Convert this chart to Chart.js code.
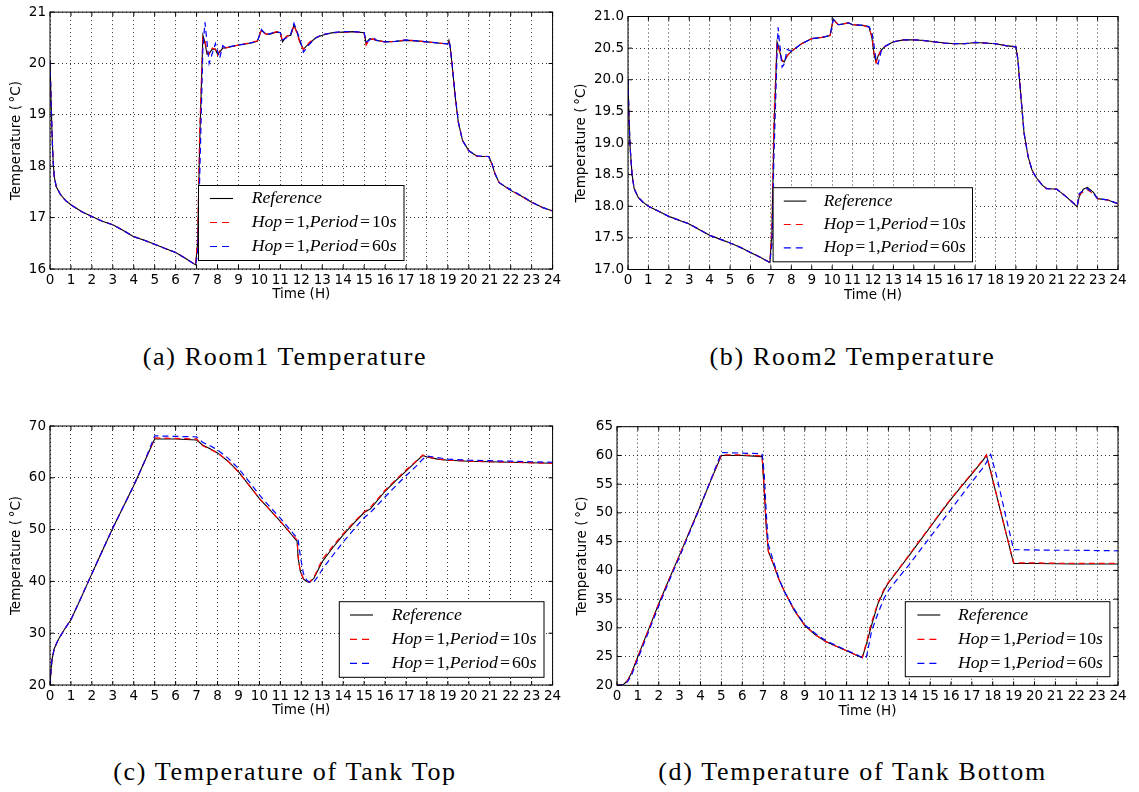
<!DOCTYPE html>
<html>
<head>
<meta charset="utf-8">
<script src="https://cdn.jsdelivr.net/npm/chart.js@4.4.1/dist/chart.umd.min.js"></script>
<style>
  body { margin: 0; background: #fff; }
  #figure { position: relative; width: 1139px; height: 792px; overflow: hidden; }
  #figure canvas { position: absolute; }
  .caption {
    position: absolute; text-align: center; color: #000;
    font-family: "Liberation Serif", serif; font-size: 26px; letter-spacing: 1.7px; line-height: 30px;
  }
</style>
</head>
<body>
<div id="figure">
  <canvas id="chart-a" width="570" height="312" style="left:0;top:0"></canvas>
  <canvas id="chart-b" width="579" height="312" style="left:560px;top:0"></canvas>
  <canvas id="chart-c" width="570" height="318" style="left:0;top:410px"></canvas>
  <canvas id="chart-d" width="579" height="318" style="left:560px;top:410px"></canvas>
  <div class="caption" style="left:0;top:342px;width:570px">(a) Room1 Temperature</div>
  <div class="caption" style="left:563px;top:342px;width:579px">(b) Room2 Temperature</div>
  <div class="caption" style="left:0;top:757px;width:570px">(c) Temperature of Tank Top</div>
  <div class="caption" style="left:563px;top:757px;width:579px">(d) Temperature of Tank Bottom</div>
</div>
<script>
'use strict';

// values: time in hours, temperature in °C

const room1Hours = [
  0, 0.05, 0.1, 0.15, 0.2, 0.3, 0.5, 0.75, 1, 1.5,
  2, 2.5, 3, 3.5, 4, 4.5, 5, 5.5, 6, 6.5,
  6.95, 7.05, 7.15, 7.3, 7.4, 7.5, 7.6, 7.75, 7.9, 8.0,
  8.1, 8.25, 8.4, 8.6, 9, 9.5, 9.9, 10.1, 10.3, 10.5,
  10.8, 11.0, 11.1, 11.3, 11.5, 11.65, 11.8, 11.95, 12.1, 12.4,
  12.7, 13, 13.5, 14, 14.5, 15.0, 15.1, 15.25, 15.4, 15.6,
  16, 16.5, 17, 17.5, 18, 18.5, 19.0, 19.05, 19.1, 19.2,
  19.35, 19.5, 19.7, 20, 20.4, 20.95, 21.1, 21.25, 21.45, 22,
  22.5, 23, 23.5, 24,
];
const room1Reference = [
  20.05, 19.3, 18.6, 18.1, 17.8, 17.6, 17.45, 17.33, 17.25, 17.12,
  17.02, 16.93, 16.86, 16.75, 16.63, 16.56, 16.48, 16.4, 16.32, 16.2,
  16.08, 16.5, 18.5, 20.55, 20.4, 20.18, 20.2, 20.28, 20.28, 20.18,
  20.22, 20.3, 20.3, 20.32, 20.36, 20.39, 20.43, 20.65, 20.58, 20.57,
  20.61, 20.6, 20.42, 20.53, 20.55, 20.75, 20.6, 20.4, 20.28, 20.4,
  20.5, 20.55, 20.6, 20.61, 20.62, 20.6, 20.38, 20.48, 20.47, 20.45,
  20.42, 20.43, 20.45, 20.44, 20.42, 20.4, 20.38, 20.45, 20.35, 19.98,
  19.35, 18.85, 18.5, 18.3, 18.19, 18.19, 18.05, 17.85, 17.68, 17.53,
  17.42, 17.3, 17.2, 17.13,
];
const room1Hop10 = [
  20.05, 19.3, 18.6, 18.1, 17.8, 17.6, 17.45, 17.33, 17.25, 17.12,
  17.02, 16.93, 16.86, 16.75, 16.63, 16.56, 16.48, 16.4, 16.32, 16.2,
  16.08, 16.6, 18.7, 20.5, 20.45, 20.22, 20.18, 20.3, 20.27, 20.16,
  20.24, 20.3, 20.31, 20.32, 20.36, 20.4, 20.44, 20.66, 20.57, 20.57,
  20.62, 20.61, 20.44, 20.53, 20.56, 20.74, 20.58, 20.38, 20.27, 20.42,
  20.5, 20.56, 20.6, 20.61, 20.62, 20.59, 20.36, 20.47, 20.48, 20.45,
  20.42, 20.43, 20.46, 20.44, 20.42, 20.4, 20.38, 20.42, 20.34, 19.98,
  19.36, 18.86, 18.5, 18.3, 18.19, 18.19, 18.04, 17.85, 17.68, 17.53,
  17.42, 17.3, 17.2, 17.13,
];
const room1Hop60 = [
  20.05, 19.3, 18.6, 18.1, 17.8, 17.6, 17.45, 17.33, 17.25, 17.12,
  17.02, 16.93, 16.86, 16.75, 16.63, 16.56, 16.48, 16.4, 16.32, 16.2,
  16.08, 16.3, 17.8, 20.3, 20.8, 20.4, 20.0, 20.2, 20.39, 20.25,
  20.1, 20.35, 20.3, 20.33, 20.36, 20.39, 20.43, 20.66, 20.56, 20.58,
  20.62, 20.6, 20.46, 20.5, 20.58, 20.78, 20.62, 20.45, 20.22, 20.38,
  20.5, 20.56, 20.6, 20.62, 20.62, 20.6, 20.42, 20.45, 20.52, 20.45,
  20.42, 20.43, 20.46, 20.44, 20.42, 20.4, 20.38, 20.44, 20.36, 20.0,
  19.38, 18.86, 18.5, 18.3, 18.2, 18.19, 18.06, 17.86, 17.68, 17.54,
  17.43, 17.3, 17.2, 17.13,
];

const room2Hours = [
  0, 0.05, 0.1, 0.2, 0.3, 0.5, 0.75, 1, 1.5, 2,
  2.5, 3, 3.5, 4, 4.5, 5, 5.5, 6, 6.5, 6.95,
  7.05, 7.15, 7.3, 7.35, 7.45, 7.55, 7.65, 7.8, 8, 8.5,
  9, 9.5, 9.9, 10.05, 10.3, 10.5, 10.8, 11, 11.5, 11.8,
  11.95, 12.05, 12.15, 12.25, 12.4, 12.6, 13, 13.5, 14, 14.5,
  15, 15.5, 16, 16.5, 17, 17.5, 18, 18.5, 19, 19.1,
  19.25, 19.4, 19.6, 19.8, 20, 20.3, 20.5, 21, 21.5, 22,
  22.1, 22.3, 22.5, 22.8, 23, 23.5, 24,
];
const room2Reference = [
  20.0, 19.4, 18.95, 18.5, 18.28, 18.14, 18.06, 18.0, 17.92, 17.84,
  17.78, 17.72, 17.63, 17.54, 17.48, 17.42, 17.35, 17.27, 17.19, 17.11,
  17.6, 19.2, 20.6, 20.55, 20.42, 20.3, 20.28, 20.38, 20.45, 20.57,
  20.65, 20.67, 20.7, 20.96, 20.87, 20.88, 20.9, 20.87, 20.86, 20.84,
  20.66, 20.4, 20.28, 20.38, 20.47, 20.53, 20.6, 20.63, 20.63, 20.62,
  20.6, 20.58, 20.57, 20.57, 20.59, 20.58, 20.57, 20.54, 20.52, 20.3,
  19.7, 19.15, 18.78, 18.56, 18.45, 18.33, 18.28, 18.27, 18.14, 17.99,
  18.15, 18.27, 18.3, 18.22, 18.12, 18.1, 18.04,
];
const room2Hop10 = [
  20.0, 19.4, 18.95, 18.5, 18.28, 18.14, 18.06, 18.0, 17.92, 17.84,
  17.78, 17.72, 17.63, 17.54, 17.48, 17.42, 17.35, 17.27, 17.19, 17.11,
  17.7, 19.4, 20.58, 20.55, 20.4, 20.3, 20.3, 20.38, 20.45, 20.57,
  20.65, 20.67, 20.7, 20.95, 20.87, 20.88, 20.9, 20.87, 20.86, 20.83,
  20.68, 20.42, 20.27, 20.37, 20.47, 20.53, 20.6, 20.63, 20.63, 20.62,
  20.6, 20.58, 20.57, 20.57, 20.59, 20.58, 20.57, 20.54, 20.52, 20.32,
  19.72, 19.16, 18.78, 18.56, 18.45, 18.33, 18.28, 18.27, 18.14, 18.0,
  18.18, 18.23, 18.26, 18.2, 18.12, 18.1, 18.04,
];
const room2Hop60 = [
  20.0, 19.4, 18.95, 18.5, 18.28, 18.14, 18.06, 18.0, 17.92, 17.84,
  17.78, 17.72, 17.63, 17.54, 17.48, 17.42, 17.35, 17.27, 17.19, 17.11,
  17.4, 18.8, 20.4, 20.83, 20.5, 20.2, 20.25, 20.48, 20.45, 20.57,
  20.65, 20.67, 20.7, 20.95, 20.87, 20.88, 20.9, 20.87, 20.86, 20.84,
  20.75, 20.55, 20.3, 20.25, 20.45, 20.53, 20.6, 20.63, 20.63, 20.62,
  20.6, 20.58, 20.57, 20.57, 20.59, 20.58, 20.57, 20.54, 20.52, 20.32,
  19.72, 19.16, 18.78, 18.56, 18.45, 18.33, 18.28, 18.27, 18.14, 18.0,
  18.2, 18.25, 18.28, 18.2, 18.12, 18.1, 18.04,
];

const tankTopHours = [
  0, 0.05, 0.1, 0.2, 0.4, 0.7, 1, 1.5, 2, 2.5,
  3, 3.5, 4, 4.5, 5, 6, 7, 7.3, 7.6, 8,
  8.5, 9, 9.5, 10, 10.5, 11, 11.5, 11.8, 11.85, 11.95,
  12.1, 12.25, 12.4, 12.6, 12.8, 13, 13.5, 14, 14.5, 15,
  15.3, 16, 16.5, 17, 17.5, 17.8, 18, 18.5, 19, 20,
  21, 22, 23, 24,
];
const tankTopReference = [
  20, 23, 25, 27, 28.8, 30.8, 32.6, 37, 41.5, 45.9,
  50.3, 54.4, 58.5, 63, 67.5, 67.5, 67.3, 66.3, 65.7, 64.8,
  63.2, 61.2, 58.6, 56, 53.8, 51.6, 49.2, 47.7, 44.5, 42,
  40.5, 40, 39.8, 40.6, 42.2, 43.8, 46.5, 49, 51.2, 53.3,
  54, 57.4, 59.4, 61.3, 63.2, 64.3, 64.0, 63.6, 63.4, 63.2,
  63.1, 63.0, 62.9, 62.8,
];
const tankTopHop10 = [
  20, 23, 25, 27, 28.8, 30.8, 32.6, 37, 41.5, 45.9,
  50.3, 54.4, 58.5, 63, 67.7, 67.6, 67.5, 66.2, 65.6, 64.8,
  63.2, 61.1, 58.6, 56, 53.8, 51.6, 49.3, 48, 44.8, 42,
  40.5, 40.1, 39.9, 40.8, 42.5, 44.2, 46.8, 49.2, 51.4, 53.4,
  54.3, 57.6, 59.6, 61.5, 63.3, 64.4, 64.1, 63.6, 63.4, 63.2,
  63.1, 63.0, 62.9, 62.8,
];
const tankTopHop60 = [
  20, 23, 25, 27, 28.8, 30.8, 32.6, 37, 41.5, 45.9,
  50.3, 54.4, 58.5, 63, 68.1, 68.0, 67.9, 66.8, 66.3, 65.4,
  63.8, 61.8, 59.3, 56.7, 54.4, 52.2, 49.8, 48.4, 48, 45,
  41.5, 40.3, 39.8, 39.9, 41, 42.3, 45, 47.6, 50, 52.3,
  53.3, 56.3, 58.4, 60.4, 62.3, 63.6, 64.2, 63.9, 63.6, 63.4,
  63.3, 63.2, 63.1, 63.0,
];

const tankBottomHours = [
  0, 0.3, 0.5, 0.7, 1, 1.5, 2, 2.5, 3, 3.5,
  4, 4.5, 5, 6, 6.95, 7.05, 7.15, 7.25, 7.5, 7.75,
  8, 8.5, 9, 9.5, 10, 10.5, 11, 11.5, 11.75, 11.95,
  12.2, 12.5, 12.8, 13, 13.5, 14, 14.5, 15, 15.5, 16,
  16.5, 17, 17.5, 17.7, 17.9, 18.2, 18.6, 19, 20, 21,
  22, 23, 24,
];
const tankBottomReference = [
  20, 20.1, 20.8, 22.2, 25, 29.6, 34.2, 38.5, 42.7, 47,
  51.3, 55.7, 60.0, 60.0, 59.8, 54, 47.5, 43.3, 41, 38.5,
  36.5, 33, 30.4, 28.8, 27.6, 26.8, 26.0, 25.2, 24.8, 27.2,
  30.5, 34.2, 36.6, 37.8, 40.2, 42.6, 45.1, 47.5, 50, 52.4,
  54.6, 56.8, 59, 60.0, 57.2, 52.8, 47, 41.2, 41.2, 41.15,
  41.1, 41.1, 41.1,
];
const tankBottomHop10 = [
  20, 20.1, 20.8, 22.2, 25, 29.6, 34.2, 38.5, 42.7, 47,
  51.3, 55.7, 60.1, 60.1, 59.9, 54.5, 47.5, 43.3, 41, 38.5,
  36.5, 33, 30.4, 28.8, 27.6, 26.8, 26.0, 25.2, 24.8, 27.5,
  31, 34.4, 36.8, 37.9, 40.3, 42.7, 45.2, 47.6, 50.1, 52.5,
  54.7, 56.9, 59.1, 60.1, 57.3, 52.9, 47, 41.3, 41.3, 41.25,
  41.2, 41.2, 41.2,
];
const tankBottomHop60 = [
  20, 20.1, 20.6, 21.8, 24.6, 29.2, 33.8, 38.2, 42.4, 46.8,
  51.2, 55.8, 60.5, 60.4, 60.3, 57, 50, 44.5, 41.5, 38.7,
  36.4, 33.2, 30.5, 29, 27.8, 26.9, 26.1, 25.3, 24.8, 24.9,
  29.5, 32.5, 35.2, 36.5, 38.8, 41, 43.4, 45.8, 48.2, 50.6,
  53, 55.4, 57.7, 58.8, 60.2, 56.2, 49.8, 43.6, 43.55, 43.5,
  43.5, 43.45, 43.4,
];

const SERIES_LABELS = ['Reference', 'Hop=1,Period=10s', 'Hop=1,Period=60s'];
const X_TITLE = 'Time (H)';
const Y_TITLE = 'Temperature (\u2009°C)';

const SERIES_STYLES = [
  { color: '#000000', width: 1.1, dash: [], order: 3 },
  { color: '#ff0000', width: 1.2, dash: [6, 4], order: 2 },
  { color: '#0000ff', width: 1.2, dash: [6, 4], order: 1 },
];

const TICK_FONT = { family: '"DejaVu Sans", sans-serif', size: 13.5 };

const PANELS = [
  {
    id: 'chart-a', hours: room1Hours, series: [room1Reference, room1Hop10, room1Hop60],
    yMin: 16, yMax: 21, yStep: 1, decimals: 0, yAxisWidth: 50, yTitlePad: 8,
    padding: { top: 10, right: 17.4, bottom: 3, left: 0 },
    legend: { box: [198.5, 185.5, 404, 260.5], rows: [198.5, 222.5, 246.5], line: [210, 233], textX: 251.7, textWidth: 145 },
  },
  {
    id: 'chart-b', hours: room2Hours, series: [room2Reference, room2Hop10, room2Hop60],
    yMin: 17, yMax: 21, yStep: 0.5, decimals: 1, yAxisWidth: 68, yTitlePad: 13.7,
    padding: { top: 16.5, right: 21, bottom: 2.5, left: 0 },
    legend: { box: [213.1, 187.7, 412.5, 261.8], rows: [201.1, 224.5, 247.8], line: [223.8, 246.3], textX: 263.7, textWidth: 142 },
  },
  {
    id: 'chart-c', hours: tankTopHours, series: [tankTopReference, tankTopHop10, tankTopHop60],
    yMin: 20, yMax: 70, yStep: 10, decimals: 0, yAxisWidth: 50, yTitlePad: 8,
    padding: { top: 16, right: 17.4, bottom: 3, left: 0 },
    legend: { box: [339.3, 191.7, 544, 267.3], rows: [205, 229.3, 253.3], line: [350, 373], textX: 391.7, textWidth: 145 },
  },
  {
    id: 'chart-d', hours: tankBottomHours, series: [tankBottomReference, tankBottomHop10, tankBottomHop60],
    yMin: 20, yMax: 65, yStep: 5, decimals: 0, yAxisWidth: 57, yTitlePad: 14.6,
    padding: { top: 16.7, right: 21, bottom: 2.7, left: 0 },
    legend: { box: [345.3, 191.7, 549.9, 266.7], rows: [205, 229.3, 253.3], line: [357.4, 380.3], textX: 398, textWidth: 145 },
  },
];

// math-style label: letters italic, digits and symbols upright
function layoutMathLabel(ctx, label, size) {
  const pieces = [];
  let width = 0;
  for (const run of label.match(/[A-Za-z]+|[^A-Za-z]+/g)) {
    const italic = /[A-Za-z]/.test(run);
    const font = `${italic ? 'italic ' : ''}${size}px "Liberation Serif", serif`;
    ctx.font = font;
    const chunks = italic ? [run] : run.split(/(=)/).filter(Boolean);
    for (const chunk of chunks) {
      const gap = chunk === '=' ? size * 0.12 : 0;
      width += gap;
      pieces.push({ text: chunk, font, dx: width });
      width += ctx.measureText(chunk).width + gap;
    }
  }
  return { pieces, width };
}

const frameAndLegendPlugin = {
  id: 'frameAndLegend',
  afterDatasetsDraw(chart, _args, options) {
    const { ctx, chartArea: { left, right, top, bottom }, scales: { x, y } } = chart;
    ctx.save();

    // inward ticks on all four sides, then the frame
    ctx.strokeStyle = '#000';
    ctx.lineWidth = 1;
    ctx.setLineDash([]);
    ctx.beginPath();
    x.ticks.forEach(tick => {
      const px = x.getPixelForValue(tick.value);
      ctx.moveTo(px, bottom); ctx.lineTo(px, bottom - 4);
      ctx.moveTo(px, top); ctx.lineTo(px, top + 4);
    });
    y.ticks.forEach(tick => {
      const py = y.getPixelForValue(tick.value);
      ctx.moveTo(left, py); ctx.lineTo(left + 4, py);
      ctx.moveTo(right, py); ctx.lineTo(right - 4, py);
    });
    ctx.stroke();
    ctx.strokeRect(left, top, right - left, bottom - top);

    // legend box inside the axes
    const [bx1, by1, bx2, by2] = options.box;
    ctx.fillStyle = '#fff';
    ctx.fillRect(bx1, by1, bx2 - bx1, by2 - by1);
    ctx.strokeStyle = '#000';
    ctx.strokeRect(bx1, by1, bx2 - bx1, by2 - by1);

    const widest = layoutMathLabel(ctx, SERIES_LABELS[2], 20).width;
    const size = 20 * options.textWidth / widest;

    SERIES_STYLES.forEach((style, i) => {
      const rowY = options.rows[i];
      ctx.strokeStyle = style.color;
      ctx.lineWidth = style.width;
      ctx.setLineDash(style.dash.length ? [7, 5] : []);
      ctx.beginPath();
      ctx.moveTo(options.line[0], rowY);
      ctx.lineTo(options.line[1], rowY);
      ctx.stroke();

      const { pieces } = layoutMathLabel(ctx, SERIES_LABELS[i], size);
      ctx.fillStyle = '#000';
      ctx.textBaseline = 'middle';
      pieces.forEach(piece => {
        ctx.font = piece.font;
        ctx.fillText(piece.text, options.textX + piece.dx, rowY);
      });
    });
    ctx.restore();
  },
};

function createPanel(panel) {
  const canvas = document.getElementById(panel.id);
  const datasets = SERIES_STYLES.map((style, i) => ({
    label: SERIES_LABELS[i],
    data: panel.hours.map((hour, k) => ({ x: hour, y: panel.series[i][k] })),
    borderColor: style.color,
    borderWidth: style.width,
    borderDash: style.dash,
    pointRadius: 0,
    tension: 0,
    fill: false,
    order: style.order,
  }));

  return new Chart(canvas.getContext('2d'), {
    type: 'line',
    data: { datasets },
    options: {
      responsive: false,
      animation: false,
      events: [],
      layout: { padding: panel.padding },
      plugins: {
        legend: { display: false },
        tooltip: { enabled: false },
        frameAndLegend: panel.legend,
      },
      scales: {
        x: {
          type: 'linear',
          min: 0,
          max: 24,
          afterFit: scale => { scale.height = 40; },
          grid: { color: '#000', lineWidth: 0.8, drawTicks: false },
          border: { display: false, dash: [1, 3] },
          ticks: { stepSize: 1, autoSkip: false, maxRotation: 0, padding: 3, color: '#000', font: TICK_FONT },
          title: { display: true, text: X_TITLE, color: '#000', font: TICK_FONT, padding: { top: 0, bottom: 6 } },
        },
        y: {
          type: 'linear',
          min: panel.yMin,
          max: panel.yMax,
          afterFit: scale => { scale.width = panel.yAxisWidth; },
          grid: { color: '#000', lineWidth: 0.8, drawTicks: false },
          border: { display: false, dash: [1, 3] },
          ticks: {
            stepSize: panel.yStep,
            padding: 4,
            color: '#000',
            font: TICK_FONT,
            callback: value => Number(value).toFixed(panel.decimals),
          },
          title: { display: true, text: Y_TITLE, color: '#000', font: TICK_FONT, padding: { top: panel.yTitlePad, bottom: 0 } },
        },
      },
    },
    plugins: [frameAndLegendPlugin],
  });
}

PANELS.forEach(createPanel);
</script>
</body>
</html>
